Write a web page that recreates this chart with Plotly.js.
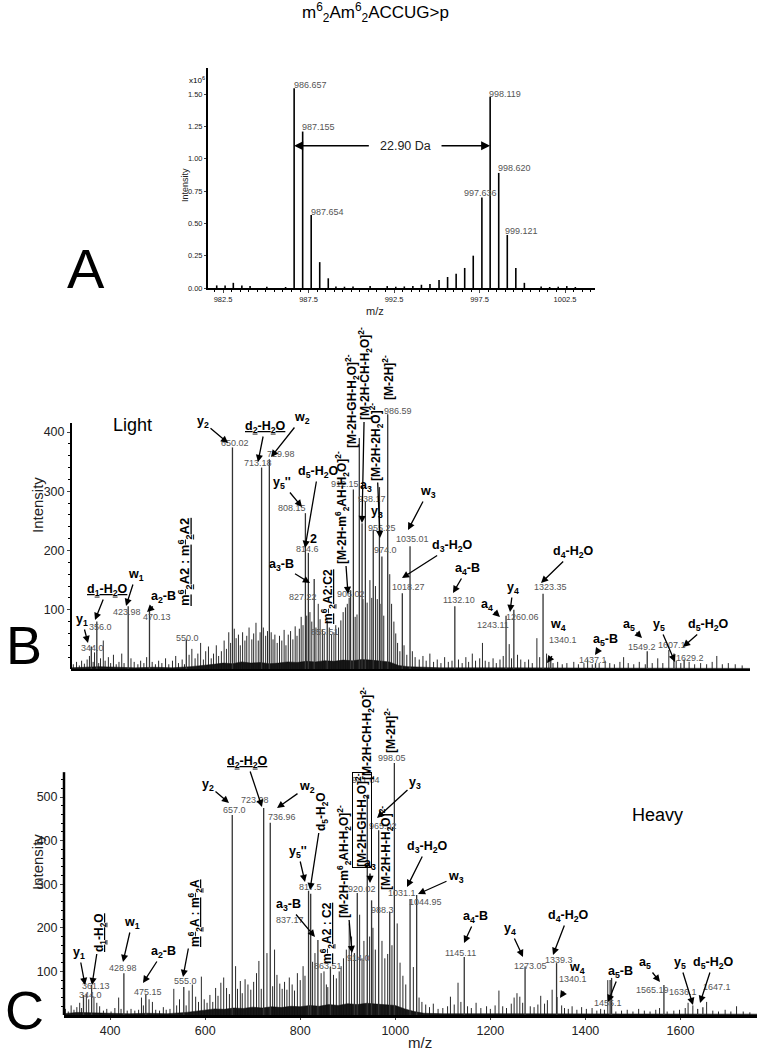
<!DOCTYPE html>
<html><head><meta charset="utf-8">
<script src="https://cdn.plot.ly/plotly-3.0.1.min.js"></script>
<style>html,body{margin:0;padding:0;background:#fff}#chart{width:759px;height:1050px}</style>
</head><body><div id="chart"></div>
<script>
// ================= DATA =================
// Panel A : MS1, isotope clusters of light / heavy [M-2H]2- (intensity x10^6)
const aMz  = [982.13,982.62,983.1,983.6,984.08,985.06,986.157,986.657,987.155,987.654,988.153,988.653,989.1,989.6,990.1,991.1,992.1,992.6,993.1,993.6,994.1,994.6,995.13,995.63,996.13,996.63,997.13,997.636,998.119,998.620,999.121,999.62,1000.12,1001.1,1001.6,1002.1,1002.6,1003.1];
const aInt = [0.02,0.02,0.04,0.02,0.015,0.01,0.008,1.545,1.21,0.565,0.20,0.075,0.012,0.01,0.012,0.015,0.015,0.01,0.012,0.015,0.025,0.03,0.062,0.085,0.11,0.155,0.25,0.70,1.48,0.89,0.41,0.155,0.04,0.012,0.008,0.01,0.015,0.008];
const aLabels = ["986.657","987.155","987.654","997.636","998.119","998.620","999.121"];
const aShift = {from: 986.657, to: 998.119, level: 1.10, text: "22.90 Da"};
const aXTicks = [982.5,987.5,992.5,997.5,1002.5];
const aYTicks = [0,0.25,0.5,0.75,1.0,1.25,1.5];

// Panel B : MS/MS light
const bMz  = [344.0,356.0,423.98,470.13,550.0,650.02,713.18,729.98,808.15,814.6,827.22,855.51,906.02,912.15,925.0,931.0,938.17,955.25,968.6,974.0,986.59,1018.27,1035.01,1132.10,1243.11,1260.06,1323.35,1340.1,1437.1,1549.2,1607.1,1629.2];
const bInt = [38,80,106,100,50,374,340,354,263,196,152,82,133,303,390,246,283,235,307,190,430,128,207,106,90,100,127,14,10,30,26,16];
const bLabels = ["344.0","356.0","423.98","470.13","550.0","650.02","713.18","729.98","808.15","814.6","827.22","855.51","906.02","912.15","","","938.17","955.25","","974.0","986.59","1018.27","1035.01","1132.10","1243.11","1260.06","1323.35","1340.1","1437.1","1549.2","1607.1","1629.2"];
const bNoise = [[305,8],[312,12],[318,6],[323,14],[329,9],[335,16],[340,22],[348,12],[351,28],[360,10],[364,18],[370,48],[374,14],[381,20],[386,10],[392,24],[398,8],[404,12],[410,26],[415,10],[430,18],[437,12],[445,8],[451,14],[458,10],[464,20],[476,12],[483,8],[490,14],[497,10],[505,18],[512,8],[520,14],[527,22],[533,10],[541,16],[546,8],[556,24],[562,34],[569,18],[575,26],[581,44],[587,16],[592,30],[598,38],[604,18],[609,26],[615,40],[620,22],[626,30],[632,48],[637,34],[642,62],[646,44],[654,68],[658,52],[663,58],[667,40],[672,62],[677,48],[681,56],[686,70],[692,50],[696,60],[701,78],[706,48],[710,62],[717,70],[722,56],[726,64],[734,62],[738,50],[742,58],[747,44],[752,56],[757,48],[762,66],[766,40],[771,58],[776,64],[781,50],[786,72],[790,56],[795,68],[799,88],[803,74],[811,90],[818,96],[822,80],[831,70],[836,110],[840,84],[845,66],[849,60],[860,70],[865,58],[870,62],[874,74],[880,70],[885,82],[890,96],[895,104],[899,110],[903,120],[916,88],[920,92],[933,118],[942,112],[948,150],[952,120],[960,140],[964,118],[970,110],[978,90],[991,160],[995,110],[1000,80],[1004,60],[1008,44],[1013,30],[1022,40],[1028,24],[1040,30],[1046,20],[1055,16],[1063,22],[1070,14],[1078,26],[1086,12],[1094,16],[1102,10],[1110,20],[1118,12],[1126,14],[1140,16],[1148,10],[1156,20],[1162,12],[1170,26],[1177,14],[1186,18],[1192,44],[1198,14],[1206,12],[1215,18],[1222,10],[1230,16],[1237,22],[1250,42],[1255,18],[1268,24],[1275,16],[1284,12],[1292,16],[1300,10],[1310,52],[1316,20],[1331,26],[1336,14],[1345,10],[1355,12],[1365,8],[1375,10],[1390,12],[1400,8],[1412,10],[1420,16],[1430,8],[1445,10],[1458,14],[1468,10],[1478,8],[1490,12],[1498,20],[1508,10],[1520,8],[1532,12],[1545,8],[1560,10],[1572,18],[1583,10],[1596,32],[1612,14],[1622,10],[1640,12],[1652,8],[1665,10],[1678,8],[1690,12],[1700,22],[1712,8],[1725,10],[1740,8],[1755,6]];
const bBandMz  = [300,330,360,400,440,480,520,560,590,610,630,650,670,690,710,730,750,770,790,810,830,850,870,890,910,930,950,970,990,1000,1010,1030,1060,1100,1200,1300,1400,1500,1600,1700,1772];
const bBandInt = [2,3,4,3,2,3,2,4,6,8,10,9,12,10,11,9,10,12,11,13,12,14,13,15,14,16,15,14,12,9,6,4,3,2,2,2,2,2,2,1,1];
const bYTicks = [100,200,300,400];

// Panel C : MS/MS heavy
const cMz  = [344.0,361.13,428.98,475.15,555.0,657.0,723.08,736.96,817.5,822.0,837.17,863.51,914.0,920.02,941.04,950.1,965.02,988.3,998.05,1031.1,1044.95,1145.11,1273.05,1339.3,1340.1,1452.0,1455.1,1565.19,1636.1,1647.1];
const cInt = [46,69,96,46,64,459,475,441,285,278,172,111,142,280,505,263,424,236,578,266,275,133,111,119,41,80,85,69,14,18];
const cLabels = ["344.0","361.13","428.98","475.15","555.0","657.0","723.08","736.96","817.5","","837.17","863.51","914.0","920.02","941.04","","965.02","988.3","998.05","1031.1","1044.95","1145.11","1273.05","1339.3","1340.1","","1455.1","1565.19","1636.1","1647.1"];
const cNoise = [[306,14],[312,8],[318,22],[324,12],[330,18],[336,28],[340,16],[350,48],[355,36],[366,42],[372,28],[378,20],[386,10],[393,14],[402,8],[410,16],[418,40],[423,14],[436,10],[444,14],[452,10],[460,12],[466,40],[470,22],[482,36],[489,30],[496,12],[504,10],[512,18],[518,12],[526,14],[534,60],[540,22],[546,36],[560,22],[566,56],[573,70],[580,42],[586,30],[592,88],[598,36],[604,28],[610,46],[616,30],[622,62],[627,44],[633,74],[639,86],[645,62],[651,48],[664,112],[668,60],[674,78],[678,50],[684,82],[690,70],[696,58],[702,76],[708,96],[713,124],[718,60],[730,142],[742,66],[746,150],[751,92],[757,72],[762,60],[767,76],[772,58],[777,86],[783,70],[788,56],[794,96],[800,80],[806,112],[810,90],[826,122],[831,142],[844,96],[850,100],[855,70],[858,64],[870,92],[876,84],[882,100],[886,112],[891,130],[897,150],[903,210],[908,180],[925,230],[930,130],[934,170],[946,180],[953,200],[958,150],[972,170],[978,130],[984,140],[993,160],[1004,210],[1010,120],[1016,90],[1022,70],[1038,110],[1050,40],[1056,30],[1064,24],[1072,18],[1080,26],[1090,14],[1100,16],[1110,20],[1116,42],[1124,24],[1132,74],[1138,30],[1152,20],[1160,16],[1170,28],[1180,16],[1192,20],[1200,14],[1210,22],[1218,56],[1226,20],[1234,16],[1244,26],[1250,40],[1256,50],[1262,42],[1268,28],[1284,20],[1292,18],[1300,24],[1306,44],[1314,26],[1320,34],[1330,58],[1350,22],[1356,16],[1364,14],[1372,20],[1382,12],[1392,18],[1402,14],[1414,16],[1424,10],[1432,14],[1440,12],[1447,80],[1464,8],[1476,10],[1488,12],[1500,8],[1512,14],[1524,10],[1536,8],[1548,12],[1556,16],[1572,8],[1586,10],[1598,12],[1610,16],[1616,28],[1626,22],[1655,30],[1668,10],[1680,8],[1694,12],[1706,8],[1718,20],[1732,8],[1746,6]];
const cBandMz  = [303,330,360,400,440,480,520,560,580,600,620,640,660,680,700,720,740,760,780,800,820,840,860,880,900,920,940,960,980,1000,1020,1040,1060,1100,1200,1300,1400,1500,1600,1761];
const cBandInt = [3,6,5,4,3,4,3,6,9,12,14,13,16,15,18,16,19,17,20,19,22,20,24,22,26,24,27,25,23,22,14,8,4,3,3,3,2,2,2,2];
const cXTicks = [400,600,800,1000,1200,1400,1600];
const cYTicks = [100,200,300,400,500];

// ================= LAYOUT HELPERS =================
const W = 759, H = 1050;
const FONT = 'Liberation Sans, Arial, Helvetica, sans-serif';
function sticks(mz, inten) {
  const x = [], y = [];
  mz.forEach((m, i) => { x.push(m, m, null); y.push(0, inten[i], null); });
  return {x, y};
}
function txt(text, px, py, size, extra) {
  return Object.assign({text, xref:'paper', yref:'paper', x:px/W, y:1-py/H,
    xanchor:'center', yanchor:'middle', showarrow:false,
    font:{family:FONT, size:size, color:'#000'}}, extra || {});
}
function arr(text, tx, ty, hx, hy, size, extra) {
  return Object.assign({text, xref:'paper', yref:'paper', x:hx/W, y:1-hy/H,
    ax: tx-hx, ay: ty-hy, axref:'pixel', ayref:'pixel', showarrow:true,
    arrowhead:2, arrowsize:1.1, arrowwidth:1.3, arrowcolor:'#000', standoff:0,
    font:{family:FONT, size:size, color:'#000', weight:'bold'}}, extra || {});
}
const GRAY = {family:FONT, size:9, color:'#555'};
const BOLD = 12.5, VBOLD = 12;

// label positions in the reference picture (px)
const aLabelPos = [[310,85],[318,127],[327,212],[480,193],[505,94],[514,168],[521,231]];
const bLabelPos = {"344.0":[92,648],"356.0":[101,627],"423.98":[127,612],"470.13":[157,617],"550.0":[187,638],"650.02":[235,443],"713.18":[258,463],"729.98":[281,454],"808.15":[292,508],"814.6":[307,549],"827.22":[303,597],"855.51":[325,632],"906.02":[351,594],"912.15":[345,484],"938.17":[372,499],"955.25":[382,528],"974.0":[385,550],"986.59":[398,411],"1018.27":[409,587],"1035.01":[412,539],"1132.10":[459,600],"1243.11":[493,625],"1260.06":[522,617],"1323.35":[550,587],"1340.1":[563,640],"1437.1":[593,660],"1549.2":[642,647],"1607.1":[672,645],"1629.2":[690,658]};
const cLabelPos = {"344.0":[90,995],"361.13":[96,986],"428.98":[123,968],"475.15":[148,992],"555.0":[185,981],"657.0":[234,810],"723.08":[255,800],"736.96":[282,817],"817.5":[310,887],"837.17":[290,920],"863.51":[328,966],"914.0":[358,958],"920.02":[362,889],"941.04":[366,780],"965.02":[383,826],"988.3":[382,910],"998.05":[392,758],"1031.1":[402,893],"1044.95":[425,902],"1145.11":[460,953],"1273.05":[530,966],"1339.3":[559,960],"1340.1":[573,979],"1455.1":[608,1003],"1565.19":[652,990],"1636.1":[683,992],"1647.1":[717,987]};

const ann = [];
// ---- Panel A texts
ann.push(txt("m<sup>6</sup><sub>2</sub>Am<sup>6</sup><sub>2</sub>ACCUG&gt;p", 375, 12, 17));
ann.push(txt("A", 86, 268, 56));
ann.push(txt("x10<sup>6</sup>", 197, 80, 8));
ann.push(txt("Intensity", 185, 185, 9, {textangle:-90, font:{family:FONT,size:9,color:'#222'}}));
ann.push(txt("m/z", 375, 311, 11, {font:{family:FONT,size:11,color:'#222'}}));
aLabels.forEach((t, i) => ann.push(txt(t, aLabelPos[i][0], aLabelPos[i][1], 9, {font:GRAY})));
ann.push({xref:'x', yref:'y', x:aShift.from, y:aShift.level, axref:'x', ayref:'y', ax:991.2, ay:aShift.level,
  text:' ', showarrow:true, arrowhead:2, arrowsize:1.2, arrowwidth:1.5, arrowcolor:'#000', standoff:0});
ann.push({xref:'x', yref:'y', x:aShift.to, y:aShift.level, axref:'x', ayref:'y', ax:995.1, ay:aShift.level,
  text:' ', showarrow:true, arrowhead:2, arrowsize:1.2, arrowwidth:1.5, arrowcolor:'#000', standoff:0});
ann.push({xref:'x', yref:'y', x:993.14, y:aShift.level, text:aShift.text, showarrow:false,
  font:{family:FONT,size:12.5,color:'#222'}});

// ---- Panel B texts
ann.push(txt("B", 24, 645, 54));
ann.push(txt("Light", 132, 425, 18));
ann.push(txt("Intensity", 37, 505, 15, {textangle:-90, font:{family:FONT,size:15,color:'#222'}}));
bLabels.forEach(t => { if (t) ann.push(txt(t, bLabelPos[t][0], bLabelPos[t][1], 9, {font:GRAY})); });
[
 ["y<sub>1</sub>",82,620,88,643],
 ["<u>d<sub>1</sub>-H<sub>2</sub>O</u>",107,590,95,620],
 ["w<sub>1</sub>",136,575,126,606],
 ["a<sub>2</sub>-B",163,597,147,612],
 ["y<sub>2</sub>",203,422,228,443],
 ["<u>d<sub>2</sub>-H<sub>2</sub>O</u>",265,427,258,462],
 ["w<sub>2</sub>",302,418,271,457],
 ["y<sub>5</sub>''",282,483,302,507],
 ["d<sub>5</sub>-H<sub>2</sub>O",318,472,305,548],
 ["a<sub>3</sub>-B",281,565,310,583],
 ["w<sub>3</sub>",428,492,408,530],
 ["d<sub>3</sub>-H<sub>2</sub>O",452,546,402,578],
 ["a<sub>4</sub>-B",467,569,453,593],
 ["y<sub>4</sub>",513,588,510,612],
 ["d<sub>4</sub>-H<sub>2</sub>O",573,552,541,583],
 ["a<sub>4</sub>",487,605,500,617],
 ["a<sub>5</sub>-B",605,640,595,655],
 ["a<sub>5</sub>",629,625,642,638],
 ["y<sub>5</sub>",659,625,675,662],
 ["d<sub>5</sub>-H<sub>2</sub>O",708,625,683,647],
 [" ",555,652,547,663]
].forEach(d => ann.push(arr(d[0], d[1], d[2], d[3], d[4], BOLD)));
[["w<sub>4</sub>",558,625],["a<sub>3</sub>",366,486],["y<sub>3</sub>",377,512],["2",313,539]]
 .forEach(d => ann.push(txt(d[0], d[1], d[2], BOLD, {font:{family:FONT,size:BOLD,color:'#000',weight:'bold'}})));
const VF = {family:FONT, size:VBOLD, color:'#000', weight:'bold'};
ann.push(txt("<u>m<sup>6</sup><sub>2</sub>A2 : m<sup>6</sup><sub>2</sub>A2</u>",185,562,13,{textangle:-90,font:Object.assign({},VF,{size:13})}));
ann.push(txt("<u>m<sup>6</sup><sub>2</sub>A2:C2</u>",328,597,VBOLD,{textangle:-90,font:VF}));
ann.push(arr("[M-2H-m<sup>6</sup><sub>2</sub>AH-H<sub>2</sub>O]<sup>2-</sup>",342,508,348,594,VBOLD,{textangle:-90,font:VF}));
ann.push(txt("[M-2H-GH-H<sub>2</sub>O]<sup>2-</sup>",352,401,VBOLD,{textangle:-90,font:VF}));
ann.push(arr("[M-2H-CH-H<sub>2</sub>O]<sup>2-</sup>",365,374,362,523,VBOLD,{textangle:-90,font:VF}));
ann.push(arr("[M-2H-2H<sub>2</sub>O]<sup>2-</sup>",376,442,380,538,VBOLD,{textangle:-90,font:VF}));
ann.push(txt("[M-2H]<sup>2-</sup>",388,378,VBOLD,{textangle:-90,font:VF}));

// ---- Panel C texts
ann.push(txt("C", 24, 1010, 54));
ann.push(txt("Heavy", 657, 815, 18));
ann.push(txt("Intensity", 37, 862, 15, {textangle:-90, font:{family:FONT,size:15,color:'#222'}}));
ann.push(txt("m/z", 420, 1042, 15, {font:{family:FONT,size:15,color:'#222'}}));
cLabels.forEach(t => { if (t) ann.push(txt(t, cLabelPos[t][0], cLabelPos[t][1], 9, {font:GRAY})); });
[
 ["y<sub>1</sub>",79,953,85,985],
 ["w<sub>1</sub>",132,923,123,962],
 ["a<sub>2</sub>-B",163,952,143,983],
 ["y<sub>2</sub>",208,785,229,803],
 ["<u>d<sub>2</sub>-H<sub>2</sub>O</u>",247,762,262,807],
 ["w<sub>2</sub>",307,787,277,808],
 ["y<sub>5</sub>''",298,852,305,882],
 ["a<sub>3</sub>-B",288,905,315,937],
 ["y<sub>3</sub>",415,783,377,818],
 ["a<sub>3</sub>",370,864,370,883],
 ["d<sub>3</sub>-H<sub>2</sub>O",427,847,407,887],
 ["w<sub>3</sub>",456,877,418,894],
 ["a<sub>4</sub>-B",476,917,464,943],
 ["y<sub>4</sub>",510,929,523,957],
 ["d<sub>4</sub>-H<sub>2</sub>O",568,916,553,955],
 ["a<sub>5</sub>-B",620,972,608,1002],
 ["a<sub>5</sub>",645,963,660,982],
 ["y<sub>5</sub>",680,963,693,1005],
 ["d<sub>5</sub>-H<sub>2</sub>O",713,963,700,1003],
 [" ",567,987,560,998]
].forEach(d => ann.push(arr(d[0], d[1], d[2], d[3], d[4], BOLD)));
ann.push(txt("w<sub>4</sub>",577,968,BOLD,{font:{family:FONT,size:BOLD,color:'#000',weight:'bold'}}));
ann.push(arr("<u>d<sub>1</sub>-H<sub>2</sub>O</u>",100,933,92,985,VBOLD,{textangle:-90,font:VF}));
ann.push(arr("<u>m<sup>6</sup><sub>2</sub>A : m<sup>6</sup><sub>2</sub>A</u>",195,913,183,977,VBOLD,{textangle:-90,font:VF}));
ann.push(arr("d<sub>5</sub>-H<sub>2</sub>O",322,812,310,890,VBOLD,{textangle:-90,font:VF}));
ann.push(txt("<u>m<sup>6</sup><sub>2</sub>A2 : C2</u>",327,933,VBOLD,{textangle:-90,font:VF}));
ann.push(arr("[M-2H-m<sup>6</sup><sub>2</sub>AH-H<sub>2</sub>O]<sup>2-</sup>",344,862,352,953,VBOLD,{textangle:-90,font:VF}));
ann.push(txt("[M-2H-GH-H<sub>2</sub>O]<sup>2-</sup>",362,820,VBOLD,{textangle:-90,font:VF,bordercolor:'#000',borderwidth:1,borderpad:0}));
ann.push(txt("[M-2H-CH-H<sub>2</sub>O]<sup>2-</sup>",367,734,VBOLD,{textangle:-90,font:VF}));
ann.push(txt("[M-2H]<sup>2-</sup>",390,731,VBOLD,{textangle:-90,font:VF}));
ann.push(txt("[M-2H-H-H<sub>2</sub>O]<sup>2-</sup>",386,848,VBOLD,{textangle:-90,font:VF}));

// ================= TRACES =================
const sA = sticks(aMz, aInt);
const sB = sticks(bMz, bInt);
const sBn = sticks(bNoise.map(p=>p[0]), bNoise.map(p=>p[1]));
const sC = sticks(cMz, cInt);
const sCn = sticks(cNoise.map(p=>p[0]), cNoise.map(p=>p[1]));
const traces = [
  {x:sA.x, y:sA.y, xaxis:'x', yaxis:'y', mode:'lines', line:{color:'#000', width:1.6}},
  {x:bBandMz, y:bBandInt, xaxis:'x2', yaxis:'y2', mode:'lines', fill:'tozeroy', fillcolor:'rgba(0,0,0,0.9)', line:{color:'#000', width:0.5}},
  {x:sBn.x, y:sBn.y, xaxis:'x2', yaxis:'y2', mode:'lines', line:{color:'#111', width:0.9}},
  {x:sB.x, y:sB.y, xaxis:'x2', yaxis:'y2', mode:'lines', line:{color:'#333', width:1.3}},
  {x:cBandMz, y:cBandInt, xaxis:'x3', yaxis:'y3', mode:'lines', fill:'tozeroy', fillcolor:'rgba(0,0,0,0.9)', line:{color:'#000', width:0.5}},
  {x:sCn.x, y:sCn.y, xaxis:'x3', yaxis:'y3', mode:'lines', line:{color:'#111', width:0.9}},
  {x:sC.x, y:sC.y, xaxis:'x3', yaxis:'y3', mode:'lines', line:{color:'#333', width:1.3}}
];

// minor tick positions (layout)
const aMinor = []; for (let v = 982; v <= 1004; v += 0.5) aMinor.push(v);
const bMinor = []; for (let v = 20; v <= 400; v += 20) bMinor.push(v);
const cMinor = []; for (let v = 20; v <= 540; v += 20) cMinor.push(v);

const TF = {family:FONT, color:'#222'};
const layout = {
  width: W, height: H, margin:{l:0,r:0,t:0,b:0},
  paper_bgcolor:'#fff', plot_bgcolor:'rgba(0,0,0,0)', showlegend:false,
  font:{family:FONT, color:'#000'},
  xaxis:{domain:[208/W, 595/W], range:[981.62, 1004.25], anchor:'y',
    tickmode:'array', tickvals:aXTicks, tickformat:'.1f', ticks:'outside', ticklen:3, tickwidth:1,
    tickfont:Object.assign({size:7.5}, TF), showline:true, linewidth:2, linecolor:'#000',
    showgrid:false, zeroline:false,
    minor:{tickmode:'array', tickvals:aMinor, ticks:'outside', ticklen:2, tickcolor:'#000'}},
  yaxis:{domain:[1-288/H, 1-68/H], range:[0, 1.7015], anchor:'x',
    tickmode:'array', tickvals:aYTicks, tickformat:'.2f', ticks:'outside', ticklen:2,
    tickfont:Object.assign({size:7.5}, TF), showline:true, linewidth:2, linecolor:'#000',
    showgrid:false, zeroline:false},
  xaxis2:{domain:[71/W, 750/W], range:[300, 1772], anchor:'y2', showticklabels:false, ticks:'',
    showline:true, linewidth:2, linecolor:'#000', showgrid:false, zeroline:false},
  yaxis2:{domain:[1-669/H, 1-340/H], range:[0, 555.3], anchor:'x2',
    tickmode:'array', tickvals:bYTicks, ticks:'outside', ticklen:3, tickfont:Object.assign({size:12.5}, TF),
    showline:false, showgrid:false, zeroline:false,
    minor:{tickmode:'array', tickvals:bMinor, ticks:'outside', ticklen:2, tickcolor:'#000'}},
  xaxis3:{domain:[64/W, 757/W], range:[303, 1761], anchor:'y3',
    tickmode:'array', tickvals:cXTicks, ticks:'outside', ticklen:2, tickfont:Object.assign({size:12.5}, TF),
    showline:true, linewidth:3, linecolor:'#000', showgrid:false, zeroline:false},
  yaxis3:{domain:[1-1015/H, 1-700/H], range:[0, 722.5], anchor:'x3',
    tickmode:'array', tickvals:cYTicks, ticks:'outside', ticklen:3, tickfont:Object.assign({size:12.5}, TF),
    showline:false, showgrid:false, zeroline:false,
    minor:{tickmode:'array', tickvals:cMinor, ticks:'outside', ticklen:2, tickcolor:'#000'}},
  shapes:[
    {type:'line', xref:'x2 domain', yref:'y2', x0:0, x1:0, y0:0, y1:415, line:{color:'#000', width:2}},
    {type:'line', xref:'x3 domain', yref:'y3', x0:0, x1:0, y0:0, y1:557, line:{color:'#000', width:2.5}}
  ],
  annotations: ann
};
Plotly.newPlot('chart', traces, layout, {staticPlot:true, displayModeBar:false});
</script>
</body></html>
